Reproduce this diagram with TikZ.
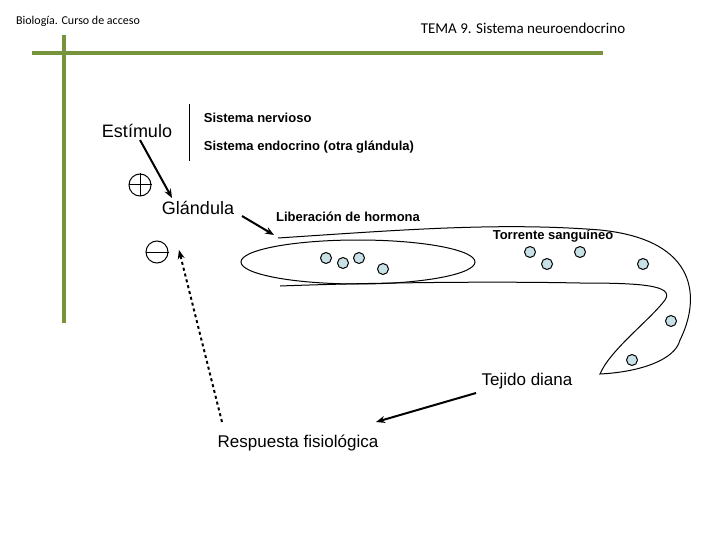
\documentclass[tikz,border=0pt]{standalone}
\usepackage{fontspec}
\setmainfont{Liberation Sans}
\newfontfamily\carlfont{Carlito}
\usetikzlibrary{arrows.meta,shapes.geometric}
\definecolor{grn}{RGB}{119,147,60}
\definecolor{dot}{RGB}{200,225,230}
\begin{document}
\begin{tikzpicture}[x=1pt,y=-1pt,line width=1pt,
 arr/.style={-{Stealth[length=9pt,width=7pt]},line width=2pt},
 hd/.style={circle,draw,fill=dot,inner sep=0pt,minimum size=11pt}]
\useasboundingbox (0,0) rectangle (720,540);
\draw[grn,line width=4pt] (64,35) -- (64,323);
\draw[grn,line width=4pt] (32,53) -- (603,53);
\node[font=\carlfont\fontsize{12}{13}\selectfont] (bio) at (78,21) {Biología. Curso de acceso};
\node[font=\carlfont\fontsize{15}{16}\selectfont] (tema) at (523,28) {TEMA 9. Sistema neuroendocrino};
\node[font=\fontsize{18}{20}\selectfont] (est) at (137,131) {Estímulo};
\draw (189,104) -- (189,161);
\node[anchor=west,font=\bfseries\fontsize{13}{14}\selectfont] (sn) at (200,118) {Sistema nervioso};
\node[anchor=west,font=\bfseries\fontsize{13}{14}\selectfont] (se) at (200,147) {Sistema endocrino (otra glándula)};
\node[circle,draw,minimum size=22pt,inner sep=0pt] (plus) at (140,185) {};
\draw (plus.north) -- (plus.south) (plus.west) -- (plus.east);
\node[circle,draw,minimum size=22pt,inner sep=0pt] (minus) at (157,252) {};
\draw (minus.west) -- (minus.east);
\node[font=\fontsize{18}{20}\selectfont] (gla) at (198,208) {Glándula};
\node[font=\bfseries\fontsize{13}{14}\selectfont] (lib) at (348,217) {Liberación de hormona};
\node[font=\bfseries\fontsize{13}{14}\selectfont] (tor) at (553,236) {Torrente sanguíneo};
\node[font=\fontsize{17}{19}\selectfont] (tej) at (527,381) {Tejido diana};
\node[font=\fontsize{17}{19}\selectfont] (res) at (298,443) {Respuesta fisiológica};
\coordinate (e1) at (140,140);
\coordinate (e2) at (172,198);
\draw[arr] (e1) -- (e2);
\coordinate (g1) at (242,216);
\coordinate (g2) at (274,235);
\draw[arr] (g1) -- (g2);
\coordinate (t1) at (476,393);
\coordinate (t2) at (376,422);
\draw[arr] (t1) -- (t2);
\coordinate (r1) at (222,422);
\coordinate (r2) at (179,250);
\draw[arr,dashed] (r1) -- (r2);
\node[draw,ellipse,minimum width=234pt,minimum height=44pt,inner sep=0pt] (ell) at (358,262) {};
\draw (278,238) .. controls (400,230) and (500,222) .. (600,230)
 .. controls (700,240) and (700,300) .. (680,340)
 .. controls (675,360) and (640,372) .. (600,374)
 .. controls (610,350) and (650,320) .. (665,300)
 .. controls (675,285) and (640,283) .. (580,283)
 .. controls (480,281) and (360,283) .. (280,286);
\foreach \n/\x/\y in {a/326/258,b/343/263,c/359/258,d/383/269,e/530/252,f/547/264,g/580/252,h/643/264,i/671/321,j/632/360}
 \node[hd] (\n) at (\x,\y) {};
\end{tikzpicture}
\end{document}
